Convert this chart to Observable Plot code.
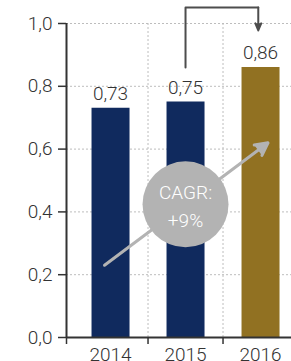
<!DOCTYPE html>
<html><head><meta charset="utf-8">
<script src="https://cdn.jsdelivr.net/npm/d3@7"></script>
<script src="https://cdn.jsdelivr.net/npm/@observablehq/plot@0.6"></script>
<style>html,body{margin:0;padding:0;background:#fff}</style>
</head><body><div id="chart"></div>
<script>
const years = [2014, 2015, 2016];
const values = [0.73, 0.75, 0.86];
const highlighted = [false, false, true];
const yTicks = [0, 0.2, 0.4, 0.6, 0.8, 1.0];
const xDomain = [2013.413, 2016.413];
const bandEdges = [2013.413, 2014.5, 2015.5];
const cagrText = ["CAGR:", "+9%"];
const cagrCenter = [{x: 2015, y: 0.424}];
const cagrArrow = [{x1: 2013.92, y1: 0.23, x2: 2016.1, y2: 0.62}];
const bracket = [{x: 2015, y: 0.86}, {x: 2015, y: 1.051}, {x: 2015.97, y: 1.051}];
const bracketHead = [{x1: 2015.97, y1: 1.051, x2: 2015.97, y2: 0.978}];

const navy = "#102a5e", gold = "#917122", ink = "#333333", greyC = "#b3b3b3";
const fmt = d => d.toFixed(2).replace(".", ",");
const fmtTick = d => d.toFixed(1).replace(".", ",");
const bars = years.map((year, i) => ({year, value: values[i], color: highlighted[i] ? gold : navy}));

const chart = Plot.plot({
  width: 291, height: 361,
  marginLeft: 66, marginRight: 0, marginTop: 23, marginBottom: 24,
  style: {fontFamily: "Roboto, 'Liberation Sans', Arial, sans-serif", fontWeight: 300, fontSize: "19px", color: ink, background: "#fff", overflow: "visible"},
  x: {domain: xDomain},
  y: {domain: [0, 1]},
  color: {type: "identity"},
  marks: [
    Plot.gridY(yTicks, {stroke: "#bdbdbd", strokeOpacity: 1, strokeDasharray: "2,2"}),
    Plot.gridX(bandEdges.slice(1), {stroke: "#bdbdbd", strokeOpacity: 1, strokeDasharray: "2,2"}),
    Plot.ruleX(bars, {x: "year", y1: 0, y2: "value", stroke: "color", strokeWidth: 38}),
    Plot.text(bars, {x: "year", y: "value", text: d => fmt(d.value), dy: -8, lineAnchor: "bottom", fill: ink, fontSize: 19}),
    Plot.arrow(cagrArrow, {x1: "x1", y1: "y1", x2: "x2", y2: "y2", stroke: greyC, fill: greyC, strokeWidth: 3, headLength: 7, headAngle: 55}),
    Plot.dot(cagrCenter, {x: "x", y: "y", r: 43, fill: greyC, stroke: null}),
    Plot.text(cagrCenter, {x: "x", y: "y", text: () => cagrText.join("\n"), lineHeight: 1.45, fill: "#fff", fontSize: 19}),
    Plot.line(bracket, {x: "x", y: "y", stroke: "#4d4d4d", strokeWidth: 2}),
    Plot.arrow(bracketHead, {x1: "x1", y1: "y1", x2: "x2", y2: "y2", stroke: "#4d4d4d", fill: "#4d4d4d", strokeWidth: 2, headLength: 11, headAngle: 45}),
    Plot.ruleX([xDomain[0]], {stroke: ink, strokeWidth: 2}),
    Plot.ruleY([0], {stroke: ink, strokeWidth: 2}),
    Plot.axisY(yTicks, {tickSize: 8, tickPadding: 6, tickFormat: fmtTick, fontSize: 19, stroke: ink, strokeWidth: 1.5, fill: ink}),
    Plot.axisX(bandEdges, {tickSize: 7, tickFormat: () => "", stroke: ink, strokeWidth: 1.5}),
    Plot.axisX(years, {tickSize: 0, tickPadding: 10, tickFormat: d => String(d), fontSize: 19, fill: ink})
  ]
});
document.getElementById("chart").appendChild(chart);
</script>
</body></html>
